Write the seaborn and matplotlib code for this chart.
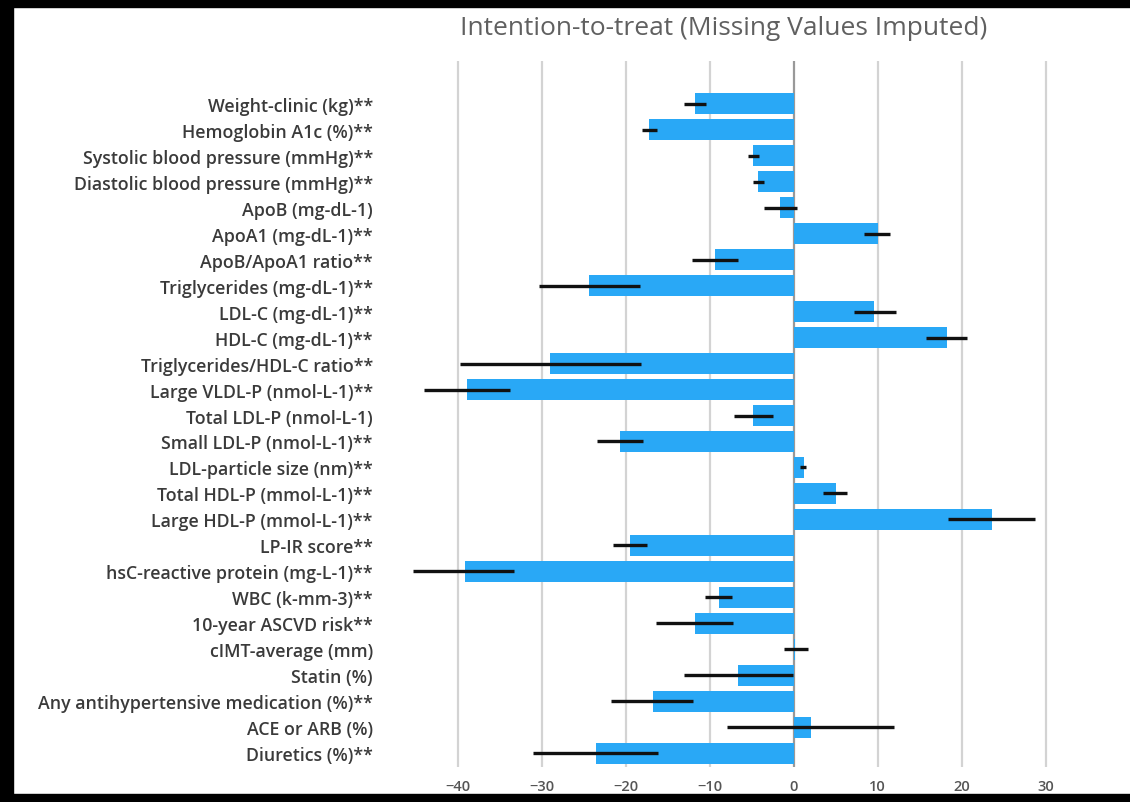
import pandas as pd
import seaborn as sns
import numpy as np
import matplotlib.pyplot as plt
from matplotlib.patches import Rectangle

sns.set_theme(style="white")
plt.rcParams["font.family"] = ["Open Sans", "DejaVu Sans"]

# Outcomes, top to bottom
labels = [
    "Weight-clinic (kg)**", "Hemoglobin A1c (%)**", "Systolic blood pressure (mmHg)**",
    "Diastolic blood pressure (mmHg)**", "ApoB (mg-dL-1)", "ApoA1 (mg-dL-1)**",
    "ApoB/ApoA1 ratio**", "Triglycerides (mg-dL-1)**", "LDL-C (mg-dL-1)**",
    "HDL-C (mg-dL-1)**", "Triglycerides/HDL-C ratio**", "Large VLDL-P (nmol-L-1)**",
    "Total LDL-P (nmol-L-1)", "Small LDL-P (nmol-L-1)**", "LDL-particle size (nm)**",
    "Total HDL-P (mmol-L-1)**", "Large HDL-P (mmol-L-1)**", "LP-IR score**",
    "hsC-reactive protein (mg-L-1)**", "WBC (k-mm-3)**", "10-year ASCVD risk**",
    "cIMT-average (mm)", "Statin (%)", "Any antihypertensive medication (%)**",
    "ACE or ARB (%)", "Diuretics (%)**",
]
# percent change and its confidence interval
change = [-11.8, -17.2, -4.8, -4.2, -1.6, 10.0, -9.4, -24.4, 9.6, 18.2, -29.0, -38.9,
          -4.8, -20.7, 1.2, 5.0, 23.6, -19.5, -39.2, -8.9, -11.8, 0.2, -6.6, -16.8,
          2.0, -23.6]
ci_low = [-13.1, -18.1, -5.5, -4.9, -3.6, 8.4, -12.1, -30.3, 7.2, 15.7, -39.7, -44.0,
          -7.1, -23.4, 0.7, 3.5, 18.4, -21.5, -45.3, -10.6, -16.4, -1.2, -13.1, -21.8,
          -8.0, -31.1]
ci_high = [-10.5, -16.3, -4.1, -3.6, 0.4, 11.5, -6.7, -18.3, 12.2, 20.6, -18.2, -33.8,
           -2.5, -18.0, 1.5, 6.4, 28.8, -17.5, -33.3, -7.4, -7.2, 1.7, -0.1, -12.0,
           12.0, -16.2]
ticks = [-40, -30, -20, -10, 0, 10, 20, 30]

df = pd.DataFrame({"outcome": labels, "change": change, "low": ci_low, "high": ci_high})

fig = plt.figure(figsize=(11.3, 8.03), dpi=100)
ax = fig.add_axes([0.357, 0.0436, 0.624, 0.879])

for t in ticks:
    ax.axvline(t, color="#999999" if t == 0 else "#d3d3d3", lw=1.6, zorder=0)

sns.barplot(data=df, x="change", y="outcome", color="#29a8f6", saturation=1,
            width=0.8, orient="h", linewidth=0, ax=ax, zorder=2)

ypos = np.arange(len(df))
ax.errorbar(df["change"], ypos,
            xerr=[df["change"] - df["low"], df["high"] - df["change"]],
            fmt="none", ecolor="#111111", elinewidth=2.4, capsize=0, zorder=3)

ax.set_xlim(-46.5, 37.5)
ax.set_ylim(len(df) - 0.48, -1.63)
ax.set_xticks(ticks)
ax.set_xlabel("")
ax.set_ylabel("")
sns.despine(ax=ax, left=True, bottom=True)
ax.tick_params(axis="x", length=0, pad=9, labelsize=10.5, labelcolor="#555555")
ax.tick_params(axis="y", length=0, pad=22, labelsize=12.8, labelcolor="#3a3a3a")
for lab in ax.get_xticklabels() + ax.get_yticklabels():
    lab.set_fontweight("semibold")

fig.text(0.64, 0.964, "Intention-to-treat (Missing Values Imputed)",
         ha="center", va="center", fontsize=19, color="#606060")

# black frame on top, left and bottom edges
for r in [(0, 0.99, 1, 0.011), (0, 0, 0.0115, 1), (0, 0, 1, 0.01)]:
    fig.patches.append(Rectangle(r[:2], r[2], r[3], transform=fig.transFigure,
                                 color="black", zorder=10))

fig.savefig("out.png", dpi=100, facecolor="white")
